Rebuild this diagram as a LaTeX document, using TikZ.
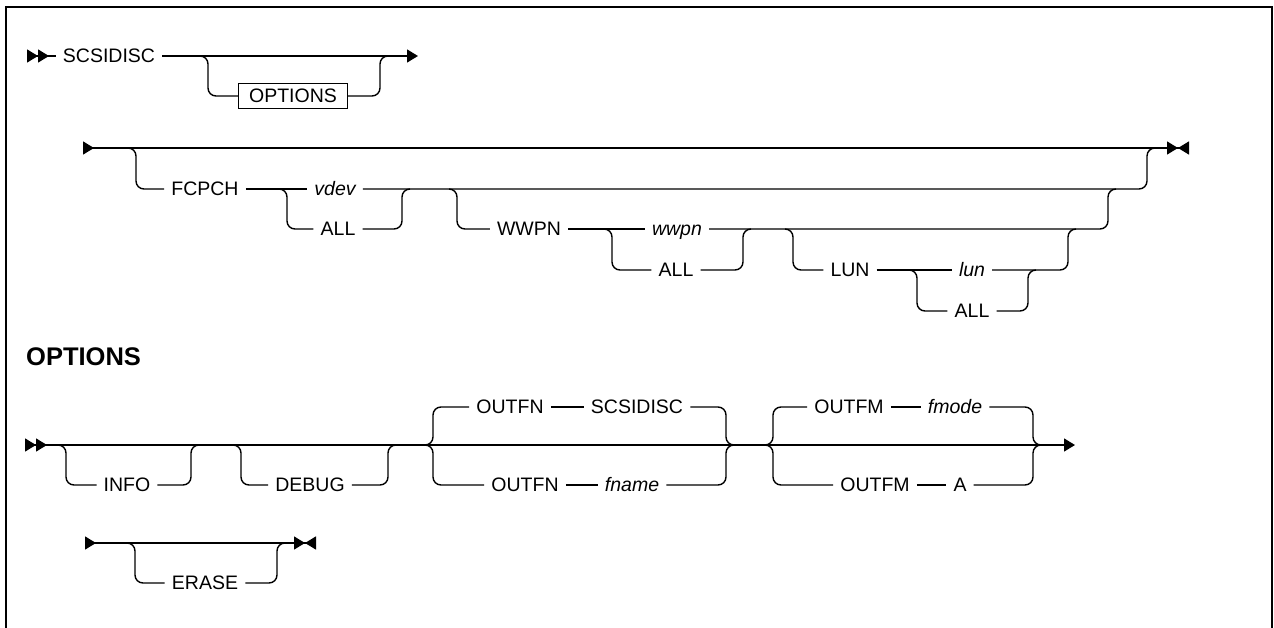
\documentclass[tikz,border=0pt]{standalone}
\usepackage{fontspec}
\setmainfont{Liberation Sans}
\usetikzlibrary{arrows.meta}
\newcommand{\railfont}{\fontsize{19.5}{23}\selectfont}
\newcommand{\headfont}{\fontsize{25.5}{30}\selectfont\bfseries}

\tikzset{
  fwd/.tip={Triangle[length=11pt,width=13pt]},
  bwd/.tip={Triangle[length=11pt,width=13pt,reversed]},
  rail/.style={line width=1.4pt, rounded corners=8pt},
  kw/.style={inner xsep=7pt, inner ysep=0pt, text height=13.8pt, text depth=0pt, font=\railfont},
  var/.style={kw, font=\railfont\itshape},
  optbox/.style={draw, line width=1.4pt, font=\railfont, minimum width=109pt, minimum height=25pt, inner sep=0pt},
}

\begin{document}
\begin{tikzpicture}[x=1pt, y=-1pt]
  \useasboundingbox (0,0) rectangle (1274,628);
  % frame, open at the bottom
  \draw[line width=2pt] (6,640) -- (6,7) -- (1272,7) -- (1272,640);

  % SCSIDISC [OPTIONS]
  \node[kw] (scsi) at (109,56) {SCSIDISC};
  \node[optbox] (optref) at (293,96) {OPTIONS};
  \coordinate (r1a) at (27,56);
  \coordinate (r1z) at (418,56);
  \coordinate (split1) at (208,56);
  \coordinate (join1) at (380,56);
  \draw[rail, {bwd[]bwd[]}-] (r1a) -- (scsi.west);
  \draw[rail, -{fwd[]}] (scsi.east) -- (r1z);
  \draw[rail] (split1) ++(-8,0) -- (split1) |- (optref.west);
  \draw[rail] (optref.east) -| (join1) -- ++(8,0);

  % FCPCH / WWPN / LUN line
  \coordinate (r2a) at (83,148);
  \coordinate (r2z) at (1189,148);
  \draw[rail, {bwd[]}-{fwd[]bwd[]}] (r2a) -- (r2z);
  \node[kw] (fcpch) at (205,189) {FCPCH};
  \node[var] (vdev) at (335,189) {vdev};
  \node[kw] (chall) at (338,229) {ALL};
  \node[kw] (wwpnkw) at (529,229) {WWPN};
  \node[var] (wwpn) at (677,229) {wwpn};
  \node[kw] (wwall) at (676,270) {ALL};
  \node[kw] (lunkw) at (850,270) {LUN};
  \node[var] (lun) at (972,270) {lun};
  \node[kw] (lunall) at (972,311) {ALL};
  \coordinate (splitA) at (136,148);
  \coordinate (joinA) at (1147,148);
  \coordinate (splitB) at (287,189);
  \coordinate (joinB) at (402,189);
  \coordinate (splitC) at (457,189);
  \coordinate (joinC) at (1108,189);
  \coordinate (splitD) at (612,229);
  \coordinate (joinD) at (743,229);
  \coordinate (splitE) at (793,229);
  \coordinate (joinE) at (1068,229);
  \coordinate (splitF) at (917,270);
  \coordinate (joinF) at (1028,270);

  \draw[rail] (splitA) ++(-8,0) -- (splitA) |- (fcpch.west);
  \draw[rail] (fcpch) -- (vdev);
  \draw[rail] (vdev.east) -| (joinA) -- ++(8,0);
  \draw[rail] (splitB) ++(-8,0) -- (splitB) |- (chall.west);
  \draw[rail] (chall.east) -| (joinB) -- ++(8,0);

  \draw[rail] (splitC) ++(-8,0) -- (splitC) |- (wwpnkw.west);
  \draw[rail] (wwpnkw) -- (wwpn);
  \draw[rail] (wwpn.east) -| (joinC) -- ++(8,0);
  \draw[rail] (splitD) ++(-8,0) -- (splitD) |- (wwall.west);
  \draw[rail] (wwall.east) -| (joinD) -- ++(8,0);

  \draw[rail] (splitE) ++(-8,0) -- (splitE) |- (lunkw.west);
  \draw[rail] (lunkw) -- (lun);
  \draw[rail] (lun.east) -| (joinE) -- ++(8,0);
  \draw[rail] (splitF) ++(-8,0) -- (splitF) |- (lunall.west);
  \draw[rail] (lunall.east) -| (joinF) -- ++(8,0);

  % OPTIONS fragment
  \node[font=\headfont, anchor=west, inner sep=0pt] (opthead) at (26,357) {OPTIONS};
  \coordinate (r3a) at (25,445);
  \coordinate (r3z) at (1075,445);
  \draw[rail, {bwd[]bwd[]}-{fwd[]}] (r3a) -- (r3z);
  \node[kw] (info) at (127,485) {INFO};
  \node[kw] (debug) at (310,485) {DEBUG};
  \node[kw] (outfnA) at (510,407) {OUTFN};
  \node[kw] (scsiA) at (637,407) {SCSIDISC};
  \node[kw] (outfnB) at (525,485) {OUTFN};
  \node[var] (fname) at (632,485) {fname};
  \node[kw] (outfmA) at (849,407) {OUTFM};
  \node[var] (fmode) at (955,407) {fmode};
  \node[kw] (outfmB) at (875,485) {OUTFM};
  \node[kw] (fmA) at (960,485) {A};
  \coordinate (splitI) at (66,445);
  \coordinate (joinI) at (191,445);
  \coordinate (splitG) at (241,445);
  \coordinate (joinG) at (388,445);
  \coordinate (splitO) at (433,445);
  \coordinate (joinO) at (726,445);
  \coordinate (splitM) at (773,445);
  \coordinate (joinM) at (1033,445);

  \draw[rail] (splitI) ++(-8,0) -- (splitI) |- (info.west);
  \draw[rail] (info.east) -| (joinI) -- ++(8,0);
  \draw[rail] (splitG) ++(-8,0) -- (splitG) |- (debug.west);
  \draw[rail] (debug.east) -| (joinG) -- ++(8,0);

  \draw[rail] (splitO) ++(-8,0) -- (splitO) |- (outfnA.west);
  \draw[rail] (outfnA) -- (scsiA);
  \draw[rail] (scsiA.east) -| (joinO) -- ++(8,0);
  \draw[rail] (splitO) ++(-8,0) -- (splitO) |- (outfnB.west);
  \draw[rail] (outfnB) -- (fname);
  \draw[rail] (fname.east) -| (joinO) -- ++(8,0);

  \draw[rail] (splitM) ++(-8,0) -- (splitM) |- (outfmA.west);
  \draw[rail] (outfmA) -- (fmode);
  \draw[rail] (fmode.east) -| (joinM) -- ++(8,0);
  \draw[rail] (splitM) ++(-8,0) -- (splitM) |- (outfmB.west);
  \draw[rail] (outfmB) -- (fmA);
  \draw[rail] (fmA.east) -| (joinM) -- ++(8,0);

  % ERASE line
  \coordinate (r4a) at (85,543);
  \coordinate (r4z) at (316,543);
  \draw[rail, {bwd[]}-{fwd[]bwd[]}] (r4a) -- (r4z);
  \node[kw] (erase) at (205,583) {ERASE};
  \coordinate (splitR) at (135,543);
  \coordinate (joinR) at (277,543);
  \draw[rail] (splitR) ++(-8,0) -- (splitR) |- (erase.west);
  \draw[rail] (erase.east) -| (joinR) -- ++(8,0);
\end{tikzpicture}
\end{document}
